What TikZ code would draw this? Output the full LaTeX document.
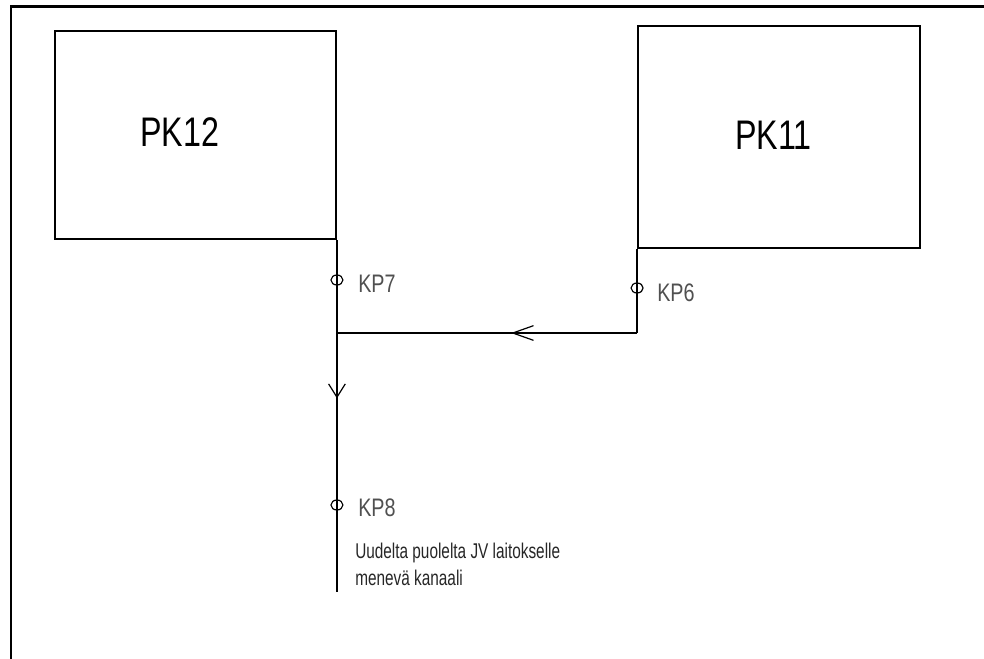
\documentclass[tikz,border=0pt]{standalone}
\usepackage{fontspec}
\setmainfont{Liberation Sans}
\newfontfamily\narrowfont[FakeStretch=0.78]{Liberation Sans}
\newfontfamily\notefont[FakeStretch=0.72]{Liberation Sans}
\usetikzlibrary{arrows.meta,decorations.markings,shapes.geometric}
\definecolor{kpgray}{HTML}{505050}
\begin{document}
\begin{tikzpicture}[x=0.75pt,y=-0.75pt,
  frame/.style={line width=1.8pt},
  pkbox/.style={draw, line width=1.4pt, inner sep=0pt},
  pklabel/.style={inner sep=0pt, anchor=base west, font=\narrowfont\fontsize{31}{36}\selectfont},
  kplabel/.style={inner sep=0pt, anchor=base west, text=kpgray, font=\narrowfont\fontsize{19}{22}\selectfont},
  kpcircle/.style={draw, ellipse, line width=0.9pt, minimum width=9pt, minimum height=7.5pt, inner sep=0pt},
  pipe/.style={line width=1.4pt},
  notelabel/.style={inner sep=0pt, anchor=base west, align=left, text=black!85, font=\notefont\fontsize{16}{20.25}\selectfont},
  midarrowH/.style={postaction={decorate}, decoration={markings, mark=at position #1 with {\arrow{Straight Barb[length=15.5pt, width=11pt, line width=0.9pt]}}}},
  midarrowV/.style={postaction={decorate}, decoration={markings, mark=at position #1 with {\arrow{Straight Barb[length=10pt, width=12.5pt, line width=0.9pt]}}}},
]
\useasboundingbox (0,0) rectangle (984,659);
% outer frame
\draw[frame] (11,659) -- (11,6.5) -- (984,6.5);

% boxes
\node[pkbox, minimum width=210.75pt, minimum height=156pt] (pk12) at (195.5,135) {};
\node[pkbox, minimum width=211.5pt, minimum height=166.5pt] (pk11) at (779,137) {};
\node[pklabel] (pk12t) at (140,147) {PK12};
\node[pklabel] (pk11t) at (735,150) {PK11};

% junctions
\coordinate (j2) at (pk11.south west |- 0,333);
\coordinate (j1) at (pk12.south east |- 0,333);
\coordinate (outend) at (pk12.south east |- 0,592);

% pipes
\draw[pipe] (pk11.south west) -- (j2);
\draw[pipe, midarrowH=0.42] (j2) -- (j1);
\draw[pipe, midarrowV=0.45] (pk12.south east) -- (outend);

% measuring points
\node[kpcircle] (kp7c) at (pk12.south east |- 0,280) {};
\node[kpcircle] (kp6c) at (pk11.south west |- 0,288) {};
\node[kpcircle] (kp8c) at (pk12.south east |- 0,505) {};
\node[kplabel] (kp7) at (358,292) {KP7};
\node[kplabel] (kp6) at (657,301) {KP6};
\node[kplabel] (kp8) at (358,516) {KP8};

% note
\node[notelabel] (note) at (355,585) {Uudelta puolelta JV laitokselle\\menevä kanaali};
\end{tikzpicture}
\end{document}
